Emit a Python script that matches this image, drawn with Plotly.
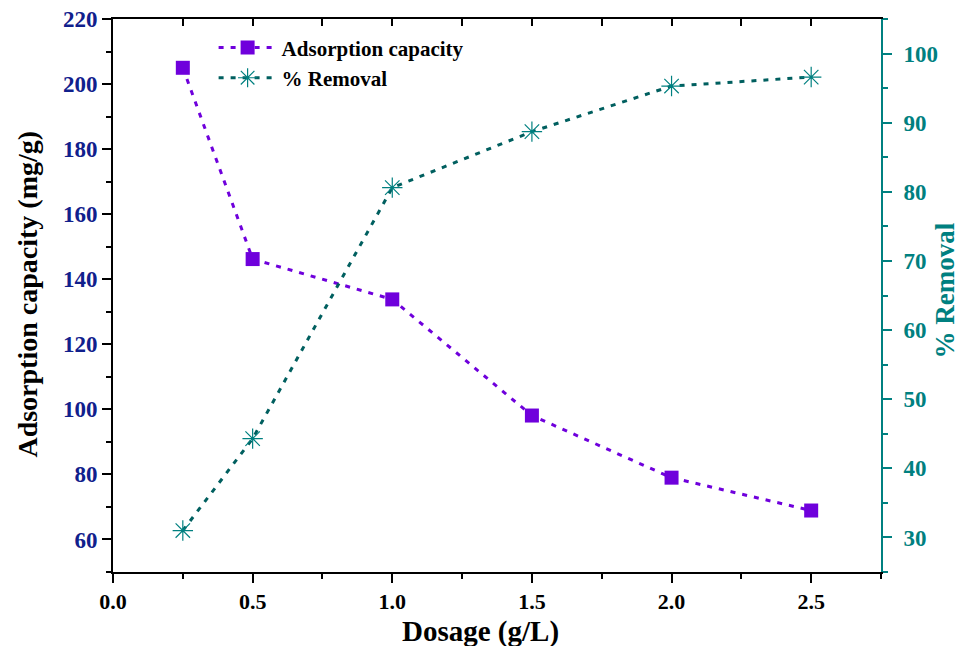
import plotly.graph_objects as go

dosage = [0.25, 0.5, 1.0, 1.5, 2.0, 2.5]
adsorption_capacity = [205.0, 146.2, 133.8, 98.1, 79.0, 68.9]
removal = [31.0, 44.3, 80.6, 88.7, 95.3, 96.6]

PURPLE = "#6F00DC"
TEAL_LINE = "#005F5F"
TEAL = "#008080"
NAVY = "#10208C"
FONT = "Liberation Serif"

fig = go.Figure()
fig.add_trace(go.Scatter(
    x=dosage, y=adsorption_capacity, name="<b>Adsorption capacity</b>",
    mode="lines+markers",
    line=dict(color=PURPLE, width=3, dash="5px,7px"),
    marker=dict(symbol="square", size=14, color=PURPLE),
    xaxis="x", yaxis="y",
))
fig.add_trace(go.Scatter(
    x=dosage, y=removal, name="<b>% Removal</b>",
    mode="lines+markers",
    line=dict(color=TEAL_LINE, width=3, dash="5px,7px"),
    marker=dict(symbol="asterisk-open", size=17, color=TEAL, line=dict(color=TEAL, width=1.2)),
    xaxis="x", yaxis="y2",
))
# helper trace so the top axis is drawn
fig.add_trace(go.Scatter(x=[None], y=[None], xaxis="x2", yaxis="y", showlegend=False, hoverinfo="skip"))

# page body has an 8px default margin, so the figure is offset by 8px
fig.update_layout(
    width=957, height=638,
    margin=dict(l=105, r=84, t=11, b=74, autoexpand=False),
    paper_bgcolor="white", plot_bgcolor="white",
    font=dict(family=FONT, color="black"),
    showlegend=True,
    legend=dict(x=0.131, y=0.985, xanchor="left", yanchor="top",
                bgcolor="rgba(0,0,0,0)", font=dict(size=21, family=FONT),
                tracegroupgap=0, itemwidth=58),
    xaxis=dict(
        range=[0, 2.75], dtick=0.5, tick0=0, tickformat=".1f", automargin=False,
        ticks="outside", ticklen=9, tickwidth=2, tickcolor="black",
        showline=True, linewidth=2, linecolor="black", showgrid=False, zeroline=False,
        minor=dict(dtick=0.25, ticks="outside", ticklen=5, tickwidth=2, tickcolor="black", showgrid=False),
        tickfont=dict(size=22, family=FONT, color="black", weight="bold"),
        ticklabeloverflow="allow",
    ),
    xaxis2=dict(
        range=[0, 2.75], overlaying="x", side="top", dtick=0.25, tick0=0, automargin=False,
        ticks="inside", ticklen=7, tickwidth=2, tickcolor="black",
        showticklabels=False, showline=True, linewidth=2, linecolor="black",
        showgrid=False, zeroline=False,
    ),
    yaxis=dict(
        range=[50, 220], dtick=20, tick0=0, automargin=False,
        ticks="outside", ticklen=9, tickwidth=2, tickcolor="black",
        showline=True, linewidth=2, linecolor="black", showgrid=False, zeroline=False,
        minor=dict(dtick=10, ticks="outside", ticklen=5, tickwidth=2, tickcolor="black", showgrid=False),
        tickfont=dict(size=23, family=FONT, color=NAVY, weight="bold"),
        ticklabeloverflow="allow",
    ),
    yaxis2=dict(
        range=[25, 105], dtick=10, tick0=0, overlaying="y", side="right", automargin=False,
        ticks="outside", ticklen=9, tickwidth=2, tickcolor=TEAL, ticklabelstandoff=7,
        showline=True, linewidth=2, linecolor=TEAL, showgrid=False, zeroline=False,
        minor=dict(dtick=5, ticks="outside", ticklen=5, tickwidth=2, tickcolor=TEAL, showgrid=False),
        tickfont=dict(size=23, family=FONT, color=TEAL, weight="bold"),
        ticklabeloverflow="allow",
    ),
    annotations=[
        dict(text="<b>Adsorption capacity (mg/g)</b>", xref="paper", yref="paper",
             x=-0.111, y=0.503, xanchor="center", yanchor="middle", textangle=-90,
             showarrow=False, font=dict(size=28, family=FONT, color="black")),
        dict(text="<b>% Removal</b>", xref="paper", yref="paper",
             x=1.084, y=0.508, xanchor="center", yanchor="middle", textangle=-90,
             showarrow=False, font=dict(size=27, family=FONT, color=TEAL)),
        dict(text="<b>Dosage (g/L)</b>", xref="paper", yref="paper",
             x=0.478, y=-0.108, xanchor="center", yanchor="middle",
             showarrow=False, font=dict(size=29, family=FONT, color="black")),
    ],
)

fig.write_html("out.html")
